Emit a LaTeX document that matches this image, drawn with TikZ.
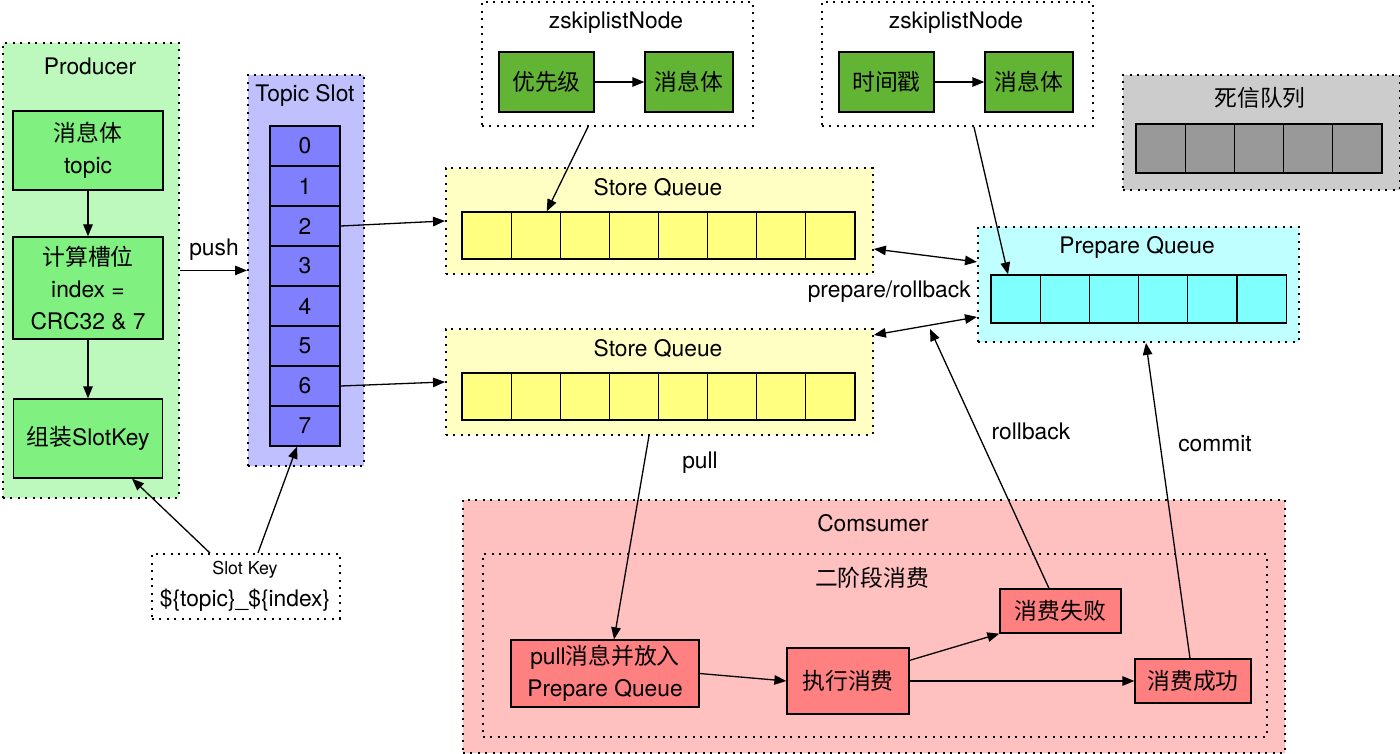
\documentclass[tikz,border=0pt]{standalone}
\usepackage{fontspec}
\setmainfont{TeX Gyre Heros}
\newfontfamily\cjk{Noto Sans CJK SC}
\usetikzlibrary{arrows.meta,calc}
\newcommand\myfs{\fontsize{22.8}{32}\selectfont}
\newcommand\mysmall{\fontsize{17.8}{20}\selectfont}
\definecolor{prodbg}{HTML}{BDF8BD}
\definecolor{prodbox}{HTML}{80F080}
\definecolor{zgreen}{HTML}{62B534}
\definecolor{tsbg}{HTML}{C0C0FF}
\definecolor{tscell}{HTML}{8080FF}
\definecolor{sqbg}{HTML}{FFFFC4}
\definecolor{sqcell}{HTML}{FFFF80}
\definecolor{pqbg}{HTML}{C0FFFF}
\definecolor{pqcell}{HTML}{80FFFF}
\definecolor{dlbg}{HTML}{CCCCCC}
\definecolor{dlcell}{HTML}{999999}
\definecolor{cbg}{HTML}{FFC0C0}
\definecolor{cbox}{HTML}{FF8080}
\begin{document}
\begin{tikzpicture}[x=1pt,y=-1pt,
  cont/.style={draw, line width=1.9pt, dash pattern=on 2pt off 5.5pt, inner sep=0pt, anchor=north west},
  box/.style={draw, line width=1.3pt, inner sep=0pt, align=center, font=\myfs},
  cell/.style={draw, line width=1.3pt, inner sep=0pt, font=\myfs},
  lbl/.style={inner sep=0pt, font=\myfs, align=center},
  arr/.style={-{Triangle[length=12pt,width=9.5pt]}, line width=1.3pt},
  darr/.style={{Triangle[length=12pt,width=9.5pt]}-{Triangle[length=12pt,width=9.5pt]}, line width=1.3pt}]
\useasboundingbox (0,0) rectangle (1400,754);
\fill[white] (0,0) rectangle (1400,754);

% Producer
\node[cont, fill=prodbg, minimum width=176pt, minimum height=455pt] (prod) at (2,42) {};
\node[lbl] (prodt) at (90,66) {Producer};
\node[box, fill=prodbox, minimum width=150pt, minimum height=79pt] (p1) at (88,150.5) {{\cjk 消息体}\\topic};
\node[box, fill=prodbox, minimum width=150pt, minimum height=102pt] (p2) at (88,288) {{\cjk 计算槽位}\\index =\\CRC32 \& 7};
\node[box, fill=prodbox, minimum width=149pt, minimum height=79pt] (p3) at (88,438.5) {{\cjk 组装}SlotKey};
\draw[arr] (p1.south) -- (p2.north);
\draw[arr] (p2.south) -- (p3.north);

% Topic slot
\node[cont, fill=tsbg, minimum width=116pt, minimum height=391pt] (ts) at (247,74) {};
\node[lbl] (tst) at (305,95) {Topic Slot};
\foreach \i in {0,...,7}
  \node[cell, fill=tscell, minimum width=70pt, minimum height=40pt] (s\i) at (305,{146+40*\i}) {\i};
\draw[arr] (prod.east) -- (prod.east -| ts.west);
\node[lbl] (pushl) at (214,250) {push};

% zskiplist nodes
\node[cont, fill=white, minimum width=271pt, minimum height=124pt] (z1) at (481,1) {};
\node[lbl] (z1t) at (616,23) {zskiplistNode};
\node[box, fill=zgreen, minimum width=95pt, minimum height=60pt] (z1a) at (546.5,82) {\cjk 优先级};
\node[box, fill=zgreen, minimum width=88pt, minimum height=60pt] (z1b) at (689,82) {\cjk 消息体};
\draw[arr] (z1a.east) -- (z1b.west);

\node[cont, fill=white, minimum width=271pt, minimum height=124pt] (z2) at (821,1) {};
\node[lbl] (z2t) at (956,23) {zskiplistNode};
\node[box, fill=zgreen, minimum width=95pt, minimum height=60pt] (z2a) at (886.5,82) {\cjk 时间戳};
\node[box, fill=zgreen, minimum width=88pt, minimum height=60pt] (z2b) at (1029,82) {\cjk 消息体};
\draw[arr] (z2a.east) -- (z2b.west);

% Dead letter queue
\node[cont, fill=dlbg, minimum width=277pt, minimum height=115pt] (dl) at (1122,74) {};
\node[lbl] (dlt) at (1260,98) {\cjk 死信队列};
\foreach \i in {0,...,4}
  \node[cell, fill=dlcell, minimum width=49.2pt, minimum height=49pt] (d\i) at ({1160.6+49.2*\i},148.5) {};

% Store queues
\node[cont, fill=sqbg, minimum width=427pt, minimum height=106pt] (sq1) at (445,167) {};
\node[lbl] (sq1t) at (658,188) {Store Queue};
\foreach \i in {0,...,7}
  \node[cell, fill=sqcell, minimum width=49.1pt, minimum height=47pt] (qa\i) at ({486.6+49.1*\i},235.5) {};
\node[cont, fill=sqbg, minimum width=427pt, minimum height=106pt] (sq2) at (445,328) {};
\node[lbl] (sq2t) at (658,349) {Store Queue};
\foreach \i in {0,...,7}
  \node[cell, fill=sqcell, minimum width=49.1pt, minimum height=47pt] (qb\i) at ({486.6+49.1*\i},396.5) {};

% Prepare queue
\node[cont, fill=pqbg, minimum width=321pt, minimum height=115pt] (pq) at (977,226) {};
\node[lbl] (pqt) at (1137,247) {Prepare Queue};
\foreach \i in {0,...,5}
  \node[cell, fill=pqcell, minimum width=49.2pt, minimum height=48pt] (pc\i) at ({1015.6+49.2*\i},299) {};

% slot -> store queue
\draw[arr] (s2.east) -- (sq1.west);
\draw[arr] (s6.east) -- (sq2.west);
% zskiplist -> queues
\draw[arr] ([xshift=-29.5pt]z1.south) -- ([xshift=11pt]qa1.north);
\draw[arr] ([xshift=16.5pt]z2.south) -- ([xshift=-7.6pt]pc0.north);
% prepare/rollback
\draw[darr] ([yshift=-28pt]sq1.east) -- ([yshift=22.5pt]pq.west);
\draw[darr] ([yshift=47pt]sq2.east) -- ([yshift=-32.5pt]pq.west);
\node[lbl, anchor=east] (prl) at (971,292) {prepare/rollback};

% Consumer
\node[cont, fill=cbg, minimum width=822pt, minimum height=253pt] (cons) at (462,499) {};
\node[lbl] (const) at (873,523) {Comsumer};
\node[cont, minimum width=784pt, minimum height=183pt] (two) at (482,553) {};
\node[lbl] (twot) at (872,578) {\cjk 二阶段消费};
\node[box, fill=cbox, minimum width=188pt, minimum height=67pt] (pb) at (605,673.5) {pull{\cjk 消息并放入}\\Prepare Queue};
\node[box, fill=cbox, minimum width=122pt, minimum height=66pt] (ex) at (848,681) {\cjk 执行消费};
\node[box, fill=cbox, minimum width=121pt, minimum height=44pt] (fail) at (1060.5,611) {\cjk 消费失败};
\node[box, fill=cbox, minimum width=116pt, minimum height=44pt] (ok) at (1193,681) {\cjk 消费成功};
\draw[arr] (pb.east) -- (ex.west);
\draw[arr] ([yshift=-13pt]ex.north east) -- (fail.south west);
\draw[arr] (ex.east) -- (ok.west);

% pull, rollback, commit
\draw[arr] ([xshift=-10.5pt]sq2.south) -- ([xshift=9pt]pb.north);
\node[lbl] (pulll) at (700,463) {pull};
\coordinate (rbend) at (930,329);
\draw[arr] ([xshift=-11.5pt]fail.north) -- (rbend);
\node[lbl] (rbl) at (1031,431) {rollback};
\draw[arr] ([xshift=-3pt]ok.north) -- ([xshift=7.5pt]pq.south);
\node[lbl] (cml) at (1215,444) {commit};

% Slot key
\node[cont, fill=white, minimum width=188pt, minimum height=65pt] (sk) at (151,553) {};
\node[inner sep=0pt, font=\mysmall] (skt) at (245,570) {Slot Key};
\node[lbl] (skv) at (245,600) {\$\{topic\}\_\$\{index\}};
\draw[arr] ([xshift=-36pt]sk.north) -- ([xshift=44pt]p3.south);
\draw[arr] ([xshift=12pt]sk.north) -- ([xshift=-8pt]s7.south);
\end{tikzpicture}
\end{document}
